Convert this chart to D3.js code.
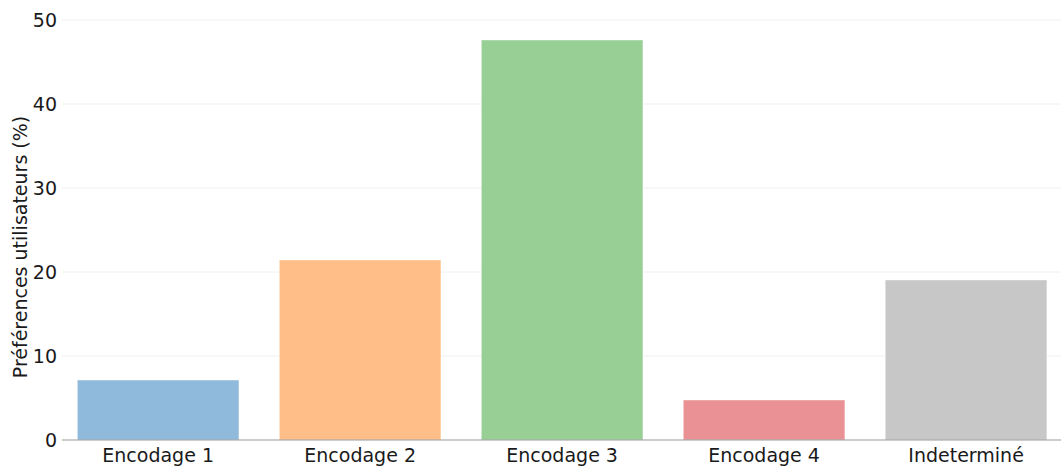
<!DOCTYPE html>
<html>
<head>
<meta charset="utf-8">
<script src="https://cdn.jsdelivr.net/npm/d3@7"></script>
<style>
  html, body { margin: 0; padding: 0; background: #fff; }
  svg { display: block; font-family: "DejaVu Sans", sans-serif; }
</style>
</head>
<body>
<svg id="chart" width="1061" height="467"></svg>
<script>
const categories = ["Encodage 1", "Encodage 2", "Encodage 3", "Encodage 4", "Indeterminé"];
const values = [7.14, 21.43, 47.62, 4.76, 19.05];
const colors = ["#8fbadb", "#ffbe87", "#97cf95", "#e99194", "#c7c7c7"];
const yTicks = [0, 10, 20, 30, 40, 50];
const yLabel = "Préférences utilisateurs (%)";

(function () {
const svg = d3.select("#chart");
const mLeft = 62, mRight = 1061, mTop = 20, mBottom = 440;

// linear index scale (bar width 0.8 units)
const x = d3.scaleLinear().domain([-0.476, 4.47]).range([mLeft, mRight]);
const y = d3.scaleLinear().domain([0, 50]).range([mBottom, mTop]);

// gridlines
svg.append("g").selectAll("line").data(yTicks.filter(t => t > 0)).join("line")
  .attr("x1", mLeft).attr("x2", mRight)
  .attr("y1", d => y(d)).attr("y2", d => y(d))
  .attr("stroke", "#f0f0f0").attr("stroke-width", 1);

// bars
svg.append("g").selectAll("rect").data(values).join("rect")
  .attr("x", (d, i) => x(i - 0.4))
  .attr("width", (d, i) => x(i + 0.4) - x(i - 0.4))
  .attr("y", d => y(d))
  .attr("height", d => y(0) - y(d))
  .attr("fill", (d, i) => colors[i])
  .attr("stroke", "#ffffff").attr("stroke-opacity", 0.4).attr("stroke-width", 1);

// bottom axis line
svg.append("line").attr("x1", mLeft).attr("x2", mRight)
  .attr("y1", y(0)).attr("y2", y(0))
  .attr("stroke", "#999").attr("stroke-width", 1.2);

// y tick labels
svg.append("g").selectAll("text").data(yTicks).join("text")
  .attr("x", mLeft - 5).attr("y", d => y(d))
  .attr("dy", "0.36em")
  .attr("text-anchor", "end")
  .attr("font-size", "19px").attr("fill", "#1a1a1a")
  .text(d => d);

// x tick labels
svg.append("g").selectAll("text").data(categories).join("text")
  .attr("x", (d, i) => x(i)).attr("y", 462)
  .attr("text-anchor", "middle")
  .attr("font-size", "19px").attr("fill", "#1a1a1a")
  .text(d => d);

// y axis label
svg.append("text")
  .attr("transform", "translate(27,247) rotate(-90)")
  .attr("text-anchor", "middle")
  .attr("font-size", "19px").attr("fill", "#1a1a1a")
  .text(yLabel);
})();
</script>
</body>
</html>
